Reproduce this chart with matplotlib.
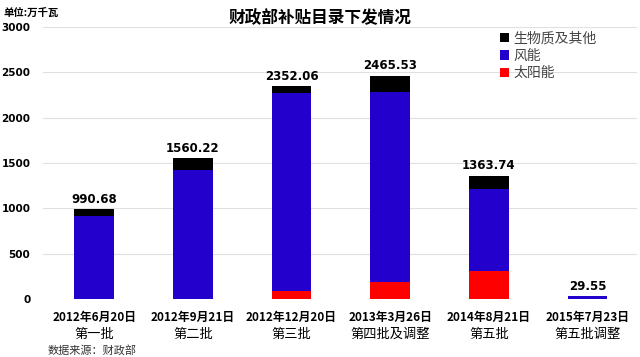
import matplotlib
matplotlib.use("Agg")
import matplotlib.pyplot as plt
import numpy as np

plt.rcParams['font.family'] = ['Noto Sans CJK SC', 'DejaVu Sans']

# data (万千瓦)
dates = ["2012年6月20日", "2012年9月21日", "2012年12月20日",
         "2013年3月26日", "2014年8月21日", "2015年7月23日"]
batches = ["第一批", "第二批", "第三批", "第四批及调整", "第五批", "第五批调整"]
solar = [0, 0, 90, 187, 309, 0]
wind = [915, 1422, 2181, 2095, 904, 29.55]
totals = [990.68, 1560.22, 2352.06, 2465.53, 1363.74, 29.55]
other = [t - s - w for t, s, w in zip(totals, solar, wind)]
yticks = [0, 500, 1000, 1500, 2000, 2500, 3000]

c_solar = "#ff0000"
c_wind = "#2400cc"
c_other = "#000000"

fig = plt.figure(figsize=(6.4, 3.57), dpi=100)
ax = fig.add_axes([0.067, 0.162, 0.928, 0.762])

x = np.arange(len(totals))
w = 0.4
ax.bar(x, solar, w, color=c_solar, label="太阳能", zorder=3)
ax.bar(x, wind, w, bottom=solar, color=c_wind, label="风能", zorder=3)
ax.bar(x, other, w, bottom=np.array(solar) + np.array(wind),
       color=c_other, label="生物质及其他", zorder=3)

for xi, t in zip(x, totals):
    ax.text(xi, t + 35, f"{t:.2f}", ha="center", va="bottom",
            fontsize=8.5, fontweight="bold", family="DejaVu Sans", zorder=4)

ax.set_xlim(-0.52, 5.5)
ax.set_ylim(0, 3000)
ax.set_yticks(yticks)
ax.set_yticklabels([str(v) for v in yticks], fontsize=7.5, fontweight="bold",
                   family="DejaVu Sans")
ax.tick_params(axis="y", length=0, pad=9)
ax.set_xticks([])
ax.grid(axis="y", color="#e0e0e0", linewidth=0.8, zorder=0)
for s in ax.spines.values():
    s.set_visible(False)

trans = ax.get_xaxis_transform()
for xi, d, b in zip(x, dates, batches):
    ax.text(xi, -0.045, d, transform=trans, ha="center", va="top",
            fontsize=8.5, fontweight="bold")
    ax.text(xi, -0.105, b, transform=trans, ha="center", va="top",
            fontsize=9.5)

handles, labels = ax.get_legend_handles_labels()
leg = ax.legend(handles[::-1], labels[::-1], loc="upper left",
                bbox_to_anchor=(0.755, 1.015), frameon=False, fontsize=10,
                handlelength=0.7, handleheight=0.7, handletextpad=0.3,
                labelspacing=0.25, borderaxespad=0.2)
for t in leg.get_texts():
    t.set_color("#444444")

fig.text(0.5, 0.95, "财政部补贴目录下发情况", ha="center", va="center",
         fontsize=12, fontweight="bold")
fig.text(0.005, 0.963, "单位:万千瓦", ha="left", va="center",
         fontsize=7.5, fontweight="bold")
fig.text(0.075, 0.004, "数据来源：财政部", ha="left", va="bottom",
         fontsize=8, color="#333333")

fig.savefig("out.png", dpi=100)
